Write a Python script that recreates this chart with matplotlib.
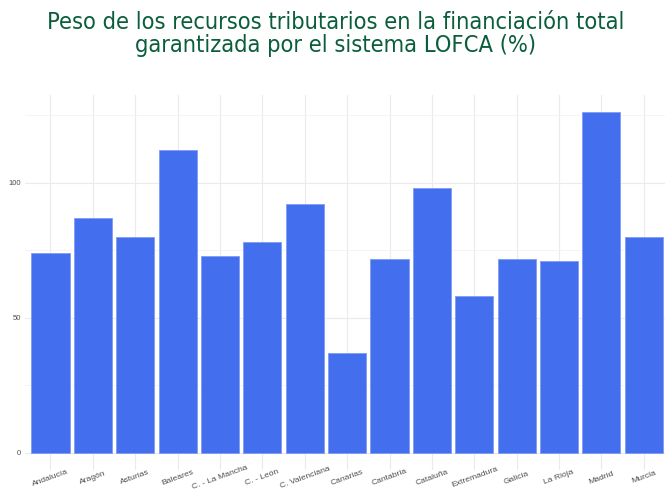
import numpy as np
import matplotlib.pyplot as plt

regiones = ['Andalucía', 'Aragón', 'Asturias', 'Baleares', 'C. - La Mancha',
            'C. - León', 'C. Valenciana', 'Canarias', 'Cantabria', 'Cataluña',
            'Extremadura', 'Galicia', 'La Rioja', 'Madrid', 'Murcia']
peso = [74.1, 87.0, 80.0, 112.1, 73.0, 78.1, 92.1, 36.9, 71.9, 98.0,
        57.9, 71.9, 71.1, 126.1, 80.0]

fig = plt.figure(figsize=(6.65, 4.9), dpi=100)
ax = fig.add_axes([0.0376, 0.0408, 0.9624, 0.7652])

x = np.arange(len(regiones))
ax.bar(x, peso, width=0.9, color='#436EEE', edgecolor='#7F9CF5',
       linewidth=0.6, zorder=2)

ax.set_xlim(-0.6, 14.5)
ax.set_ylim(-6.3, 132.4)
ax.set_yticks([0, 50, 100])
ax.set_yticks([25, 75, 125], minor=True)
ax.set_xticks(x)
ax.set_xticklabels(regiones, rotation=20, ha='center', va='center',
                   rotation_mode='anchor', fontsize=6.1,
                   family='Liberation Sans', color='#4D4D4D')
ax.tick_params(axis='x', length=0, pad=5.5)
ax.tick_params(axis='y', labelsize=5.5, labelcolor='#4D4D4D', length=0, pad=3)
ax.tick_params(axis='y', which='minor', length=0)
for lab in ax.get_yticklabels():
    lab.set_family('Liberation Sans')
ax.grid(which='major', color='#EBEBEB', linewidth=0.8, zorder=0)
ax.grid(which='minor', axis='y', color='#F3F3F3', linewidth=0.6, zorder=0)
for s in ax.spines.values():
    s.set_visible(False)

fig.text(0.505, 0.93, 'Peso de los recursos tributarios en la financiación total\n'
         'garantizada por el sistema LOFCA (%)',
         ha='center', va='center', fontsize=16.9, color='#0B5E3B',
         family='DejaVu Sans', fontstretch='condensed', linespacing=1.02)

fig.savefig('out.png', dpi=100)
